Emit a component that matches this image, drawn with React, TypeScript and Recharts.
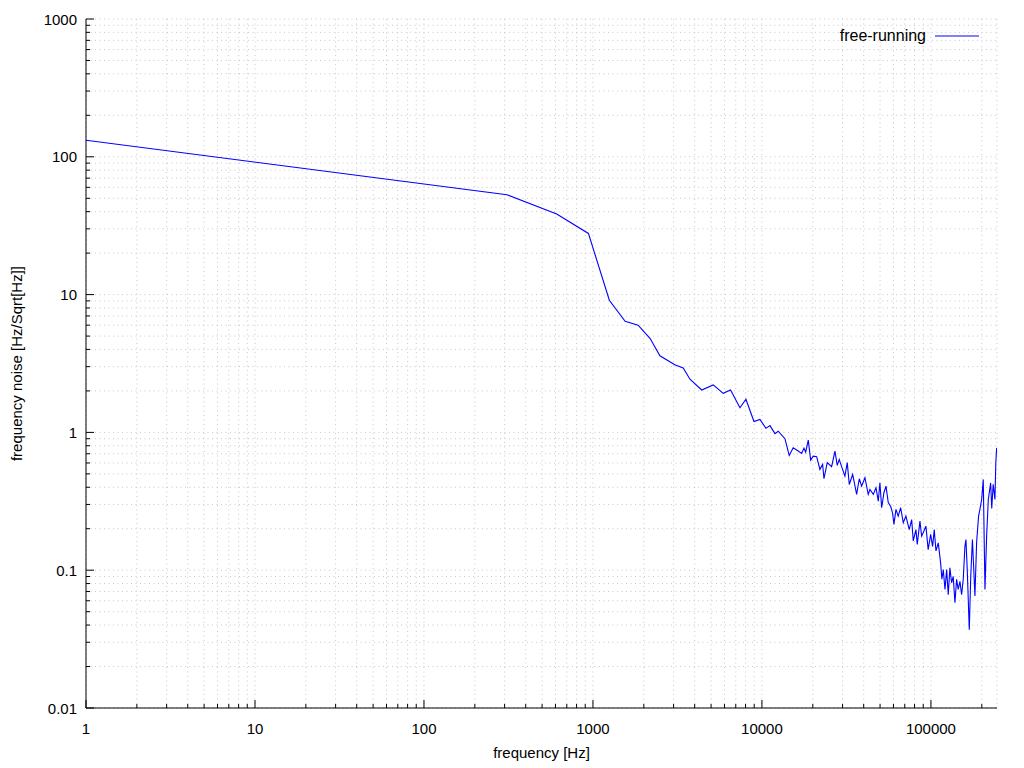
import { LineChart, Line, XAxis, YAxis, CartesianGrid, Legend } from "recharts";

// frequency [Hz] and noise [Hz/Sqrt[Hz]]
const frequency = [
  1, 310, 610, 940, 1250, 1550, 1850, 2180, 2490, 3050,
  3420, 3750, 4400, 5150, 5900, 6520, 7410, 8040, 8970, 9730,
  10560, 11150, 11940, 12480, 13680, 14500, 15310, 16390, 17170, 17730,
  18140, 18800, 19420, 20130, 21070, 22030, 22860, 23280, 24340, 25840,
  27040, 27900, 28670, 29610, 30970, 31970, 32860, 34430, 36330, 37670,
  38900, 40680, 42560, 43550, 45600, 47300, 48800, 49900, 51100, 52700,
  54200, 55900, 57800, 59300, 60400, 62100, 64000, 66200, 68600, 71100,
  74400, 76900, 78600, 81500, 83000, 86100, 88100, 90000, 93400, 96300,
  99600, 102300, 104600, 107100, 110500, 114100, 116100, 118300, 121100, 123900,
  126600, 129500, 132500, 135500, 138700, 141900, 145000, 148500, 151900, 155300,
  158900, 161100, 164000, 168600, 172000, 176000, 182100, 186400, 191400, 194900,
  199600, 204000, 208800, 213600, 218500, 225600, 229000, 233600, 239200, 242000,
  244800,
];

const noise = [
  132, 53, 38.5, 27.8, 9.1, 6.4, 6.0, 4.8, 3.6, 3.1,
  2.93, 2.43, 2.03, 2.21, 1.92, 2.03, 1.51, 1.74, 1.2, 1.24,
  1.07, 1.12, 0.98, 1.02, 0.9, 0.68, 0.774, 0.732, 0.704, 0.77,
  0.719, 0.879, 0.629, 0.673, 0.666, 0.539, 0.586, 0.461, 0.603, 0.564,
  0.732, 0.576, 0.637, 0.564, 0.482, 0.603, 0.419, 0.495, 0.355, 0.461,
  0.407, 0.469, 0.355, 0.386, 0.355, 0.397, 0.317, 0.431, 0.284, 0.365,
  0.407, 0.31, 0.29, 0.26, 0.215, 0.276, 0.247, 0.284, 0.221, 0.247,
  0.197, 0.233, 0.163, 0.197, 0.154, 0.227, 0.177, 0.187, 0.209, 0.141,
  0.182, 0.149, 0.197, 0.138, 0.158, 0.113, 0.086, 0.101, 0.0725, 0.101,
  0.0664, 0.104, 0.081, 0.09, 0.058, 0.086, 0.0725, 0.083, 0.0664, 0.086,
  0.149, 0.167, 0.101, 0.037, 0.09, 0.167, 0.065, 0.16, 0.247, 0.276,
  0.326, 0.456, 0.0725, 0.177, 0.326, 0.43, 0.28, 0.42, 0.326, 0.6,
  0.77,
];

const xDecades = [1, 10, 100, 1000, 10000, 100000];
const yDecades = [0.01, 0.1, 1, 10, 100];
const X_MAX = 246000;
const Y_MIN = 0.01;
const Y_MAX = 1000;

const data = frequency.map((f, i) => ({ f, v: noise[i] }));

// major + minor ticks (2..9 times each decade) inside the range
const withMinors = (decades: number[], max: number) => {
  const out: number[] = [];
  decades.forEach((d) => {
    for (let m = 1; m <= 9; m++) {
      const t = +(d * m).toPrecision(6);
      if (t <= max) out.push(t);
    }
  });
  return out;
};
const xTicks = withMinors(xDecades, X_MAX);
const yTicks = [...withMinors(yDecades, Y_MAX), Y_MAX];

const FONT = '"Liberation Sans", Arial, sans-serif';
const MAJOR = 8;
const MINOR = 4;

const isMajor = (v: number) => {
  const l = Math.log10(v);
  return Math.abs(l - Math.round(l)) < 1e-6;
};

const BottomTick = ({ x, y, payload }: any) => {
  const major = isMajor(payload.value);
  return (
    <g>
      <line x1={x} x2={x} y1={y} y2={y - (major ? MAJOR : MINOR)} stroke="#000" />
      {major && (
        <text x={x} y={y + 20} textAnchor="middle" dominantBaseline="central" fontFamily={FONT} fontSize={15} fill="#000">
          {payload.value}
        </text>
      )}
    </g>
  );
};

const TopTick = ({ x, y, payload }: any) => {
  const major = isMajor(payload.value);
  return <line x1={x} x2={x} y1={y} y2={y + (major ? MAJOR : MINOR)} stroke="#000" />;
};

const LeftTick = ({ x, y, payload }: any) => {
  const major = isMajor(payload.value);
  return (
    <g>
      <line x1={x} x2={x + (major ? MAJOR : MINOR)} y1={y} y2={y} stroke="#000" />
      {major && (
        <text x={x - 9} y={y} textAnchor="end" dominantBaseline="central" fontFamily={FONT} fontSize={15} fill="#000">
          {payload.value}
        </text>
      )}
    </g>
  );
};

const RightTick = ({ x, y, payload }: any) => {
  const major = isMajor(payload.value);
  return <line x1={x} x2={x - (major ? MAJOR : MINOR)} y1={y} y2={y} stroke="#000" />;
};

const XLabel = ({ viewBox }: any) => {
  const cx = viewBox.x + viewBox.width / 2;
  const cy = viewBox.y + 44;
  return (
    <text x={cx} y={cy} textAnchor="middle" dominantBaseline="central" fontFamily={FONT} fontSize={15} fill="#000">
      frequency [Hz]
    </text>
  );
};

const YLabel = ({ viewBox }: any) => {
  const cx = viewBox.x + 16;
  const cy = viewBox.y + viewBox.height / 2;
  return (
    <text
      x={cx}
      y={cy}
      transform={`rotate(-90 ${cx} ${cy})`}
      textAnchor="middle"
      dominantBaseline="central"
      fontFamily={FONT}
      fontSize={15}
      fill="#000"
    >
      frequency noise [Hz/Sqrt[Hz]]
    </text>
  );
};

const LegendContent = () => (
  <div style={{ display: "flex", alignItems: "center", justifyContent: "flex-end", fontFamily: FONT, fontSize: 16, color: "#000" }}>
    <span>free-running</span>
    <svg width={44} height={10} style={{ marginLeft: 9 }}>
      <line x1={0} x2={44} y1={5} y2={5} stroke="#0000ff" strokeWidth={1.1} />
    </svg>
  </div>
);

export default function App() {
  return (
    <div style={{ position: "absolute", left: 0, top: 0, background: "#fff" }}>
      <LineChart width={1024} height={768} data={data} margin={{ top: 19, right: 27, left: 0, bottom: 0 }}>
        <CartesianGrid stroke="#c8c8c8" strokeDasharray="1 3.5" />
        <XAxis
          dataKey="f"
          type="number"
          scale="log"
          domain={[1, X_MAX]}
          allowDataOverflow
          ticks={xTicks}
          interval={0}
          height={60}
          tickSize={0}
          tickMargin={0}
          tickLine={false}
          axisLine={{ stroke: "#000" }}
          tick={(p: any) => <BottomTick {...p} />}
          label={<XLabel />}
        />
        <XAxis
          xAxisId="top"
          dataKey="f"
          type="number"
          scale="log"
          orientation="top"
          domain={[1, X_MAX]}
          allowDataOverflow
          ticks={xTicks}
          interval={0}
          height={0}
          tickSize={0}
          tickMargin={0}
          tickLine={false}
          axisLine={{ stroke: "#000" }}
          tick={(p: any) => <TopTick {...p} />}
        />
        <YAxis
          type="number"
          scale="log"
          domain={[Y_MIN, Y_MAX]}
          allowDataOverflow
          ticks={yTicks}
          interval={0}
          width={86}
          tickSize={0}
          tickMargin={0}
          tickLine={false}
          axisLine={{ stroke: "#000" }}
          tick={(p: any) => <LeftTick {...p} />}
          label={<YLabel />}
        />
        <YAxis
          yAxisId="right"
          type="number"
          scale="log"
          orientation="right"
          domain={[Y_MIN, Y_MAX]}
          allowDataOverflow
          ticks={yTicks}
          interval={0}
          width={0}
          tickSize={0}
          tickMargin={0}
          tickLine={false}
          axisLine={{ stroke: "#000" }}
          tick={(p: any) => <RightTick {...p} />}
        />
        <Legend
          content={<LegendContent />}
          layout="horizontal"
          verticalAlign="middle"
          align="center"
          wrapperStyle={{ top: 27, right: 45, left: "auto", width: "auto" }}
        />
        <Line
          dataKey="v"
          type="linear"
          stroke="#0000ff"
          strokeWidth={1.1}
          dot={false}
          activeDot={false}
          isAnimationActive={false}
        />
      </LineChart>
    </div>
  );
}
